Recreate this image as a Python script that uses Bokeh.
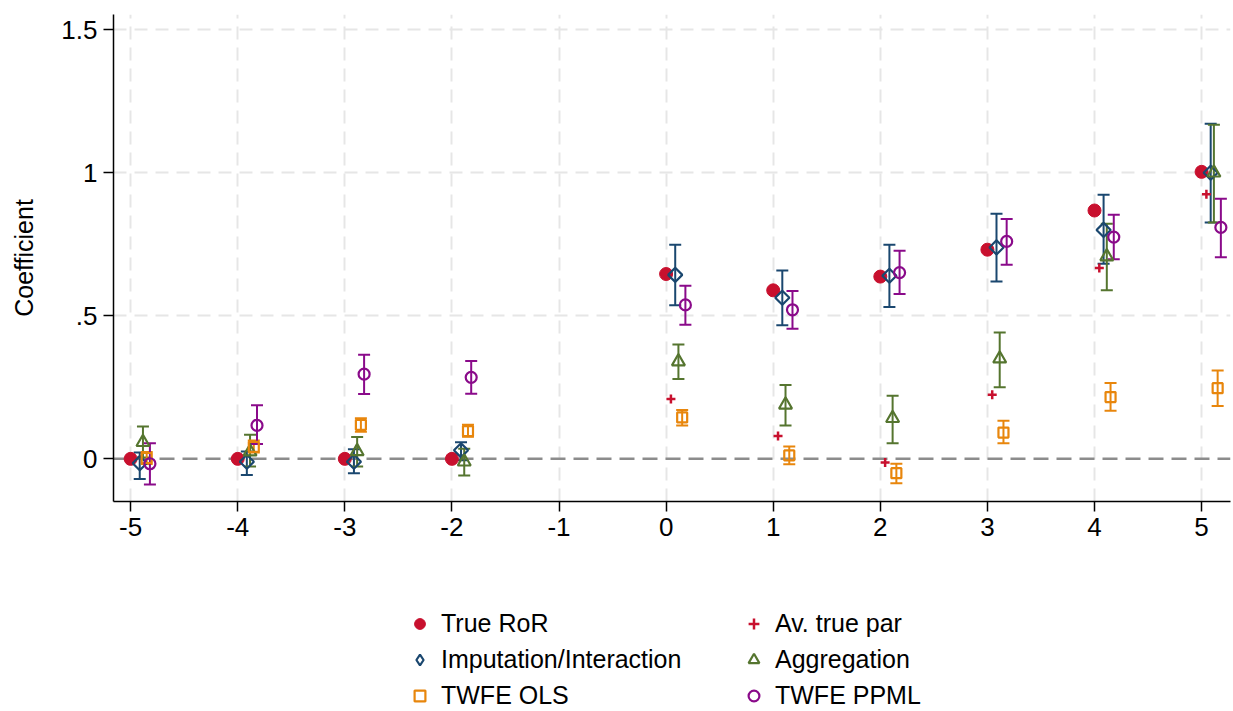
import numpy as np
from bokeh.plotting import figure
from bokeh.layouts import column
from bokeh.models import (ColumnDataSource, Whisker, TeeHead, Span, Legend, LegendItem,
                          FixedTicker, Range1d)
from bokeh.embed import file_html
from bokeh.resources import INLINE

# ---------------- data ----------------
lags = [-5, -4, -3, -2, 0, 1, 2, 3, 4, 5]
lags_post = [0, 1, 2, 3, 4, 5]

true_ror = [0.0, 0.0, 0.0, 0.0, 0.646, 0.589, 0.637, 0.731, 0.868, 1.003]
av_true_par = [0.209, 0.080, -0.013, 0.224, 0.667, 0.925]

imput = [-0.015, -0.010, -0.010, 0.030, 0.643, 0.563, 0.640, 0.739, 0.800, 1.000]
imput_lo = [-0.070, -0.056, -0.050, -0.005, 0.537, 0.467, 0.531, 0.620, 0.682, 0.826]
imput_hi = [0.022, 0.026, 0.034, 0.058, 0.748, 0.658, 0.748, 0.857, 0.923, 1.171]

agg = [0.058, 0.025, 0.026, -0.010, 0.340, 0.189, 0.142, 0.350, 0.707, 1.000]
agg_lo = [0.005, -0.027, -0.027, -0.058, 0.279, 0.117, 0.055, 0.250, 0.589, 0.826]
agg_hi = [0.113, 0.084, 0.076, 0.035, 0.400, 0.258, 0.221, 0.442, 0.822, 1.168]

ols = [0.003, 0.042, 0.119, 0.097, 0.145, 0.012, -0.050, 0.092, 0.216, 0.247]
ols_lo = [-0.018, 0.022, 0.095, 0.077, 0.117, -0.019, -0.085, 0.055, 0.168, 0.185]
ols_hi = [0.024, 0.064, 0.142, 0.119, 0.171, 0.043, -0.017, 0.133, 0.265, 0.309]

ppml = [-0.017, 0.117, 0.296, 0.285, 0.538, 0.521, 0.651, 0.760, 0.775, 0.809]
ppml_lo = [-0.090, 0.052, 0.227, 0.228, 0.469, 0.455, 0.576, 0.678, 0.698, 0.705]
ppml_hi = [0.055, 0.187, 0.364, 0.342, 0.605, 0.587, 0.727, 0.838, 0.853, 0.909]

x_ticks = [-5, -4, -3, -2, -1, 0, 1, 2, 3, 4, 5]
y_ticks = [0, 0.5, 1, 1.5]
y_tick_labels = ["0", ".5", "1", "1.5"]

series_names = ["True RoR", "Av. true par", "Imputation/Interaction",
                "Aggregation", "TWFE OLS", "TWFE PPML"]

# ---------------- styles ----------------
RED = "#c8102e"
BLUE = "#1a476f"
GREEN = "#55752f"
ORANGE = "#e8860c"
PURPLE = "#8a0a8a"
FONT = "Liberation Sans"

OFF_AV, OFF_IMP, OFF_AGG, OFF_OLS, OFF_PPML = 0.045, 0.085, 0.115, 0.15, 0.18
DIAMOND_ANGLE = np.pi / 4

STYLES = {
    "True RoR": dict(marker="circle", size=13, fill_color=RED, line_color=RED, line_width=1),
    "Av. true par": dict(marker="cross", size=9, line_color=RED, line_width=2.5),
    "Imputation/Interaction": dict(marker="square", size=10, fill_alpha=0,
                                   line_color=BLUE, line_width=2.2),
    "Aggregation": dict(marker="triangle", size=13, fill_alpha=0, line_color=GREEN,
                        line_width=2.2),
    "TWFE OLS": dict(marker="square", size=10, fill_alpha=0, line_color=ORANGE,
                     line_width=2.2),
    "TWFE PPML": dict(marker="circle", size=11, fill_alpha=0, line_color=PURPLE,
                      line_width=2.2),
}

p = figure(width=1233, height=565, output_backend="svg", toolbar_location=None,
           x_range=Range1d(-5.16, 5.27), y_range=Range1d(-0.149, 1.553),
           min_border_left=113, min_border_right=3, min_border_top=14,
           min_border_bottom=64)
p.outline_line_color = None
p.background_fill_color = "white"
p.border_fill_color = "white"

# grid
p.xgrid.ticker = FixedTicker(ticks=x_ticks)
p.ygrid.ticker = FixedTicker(ticks=[0.5, 1, 1.5])
for g in (p.xgrid, p.ygrid):
    g.grid_line_color = "#e6e6e6"
    g.grid_line_width = 2
    g.grid_line_dash = "13 8"

# axes
p.xaxis.ticker = FixedTicker(ticks=x_ticks)
p.xaxis.major_label_overrides = {t: str(t) for t in x_ticks}
p.yaxis.ticker = FixedTicker(ticks=y_ticks)
p.yaxis.major_label_overrides = dict(zip(y_ticks, y_tick_labels))
p.yaxis.axis_label = "Coefficient"
for ax in (p.xaxis, p.yaxis):
    ax.axis_line_color = "black"
    ax.axis_line_width = 1.5
    ax.major_tick_line_color = "black"
    ax.major_tick_line_width = 1.5
    ax.major_tick_out = 10
    ax.major_tick_in = 0
    ax.minor_tick_out = 0
    ax.minor_tick_in = 0
    ax.major_label_text_font = FONT
    ax.major_label_text_font_size = "26px"
    ax.major_label_text_color = "black"
    ax.major_label_standoff = 6
    ax.axis_label_text_font = FONT
    ax.axis_label_text_font_size = "25px"
    ax.axis_label_text_font_style = "normal"
    ax.axis_label_text_color = "black"
p.yaxis.axis_label_standoff = 20

# zero reference line
zero = Span(location=0, dimension="width", line_color="#8c8c8c", line_width=2.5,
            line_dash="15 8", level="underlay")
p.add_layout(zero)

lags_a = np.array(lags, dtype=float)
post_a = np.array(lags_post, dtype=float)


def whisk(xs, lo, hi, color):
    src = ColumnDataSource(dict(x=xs, lo=lo, hi=hi))
    w = Whisker(source=src, base="x", lower="lo", upper="hi", dimension="height",
                line_color=color, line_width=2,
                upper_head=TeeHead(size=12, line_color=color, line_width=2),
                lower_head=TeeHead(size=12, line_color=color, line_width=2))
    p.add_layout(w)


whisk(lags_a + OFF_IMP, imput_lo, imput_hi, BLUE)
whisk(lags_a + OFF_AGG, agg_lo, agg_hi, GREEN)
whisk(lags_a + OFF_OLS, ols_lo, ols_hi, ORANGE)
whisk(lags_a + OFF_PPML, ppml_lo, ppml_hi, PURPLE)

p.scatter(lags_a, true_ror, **STYLES["True RoR"])
p.scatter(post_a + OFF_AV, av_true_par, **STYLES["Av. true par"])
p.scatter(lags_a + OFF_IMP, imput, angle=DIAMOND_ANGLE, **STYLES["Imputation/Interaction"])
p.scatter(lags_a + OFF_AGG, agg, **STYLES["Aggregation"])
p.scatter(lags_a + OFF_OLS, ols, **STYLES["TWFE OLS"])
p.scatter(lags_a + OFF_PPML, ppml, **STYLES["TWFE PPML"])

# ---------------- legend panel ----------------
pl = figure(width=1233, height=146, output_backend="svg", toolbar_location=None,
            x_range=Range1d(0, 1), y_range=Range1d(0, 1),
            x_axis_type=None, y_axis_type=None,
            min_border_left=0, min_border_right=0, min_border_top=0, min_border_bottom=0)
pl.outline_line_color = None
pl.xgrid.visible = False
pl.ygrid.visible = False
pl.background_fill_color = "white"
pl.border_fill_color = "white"

# legend-only renderers (no visible points)
leg_r = {}
for name in series_names:
    st = dict(STYLES[name])
    if name == "Imputation/Interaction":
        st["marker"] = "diamond"
    leg_r[name] = pl.scatter(x=[np.nan], y=[np.nan], **st)

# column-major order so rows read: True RoR / Av. true par, etc.
order = ["True RoR", "Imputation/Interaction", "TWFE OLS",
         "Av. true par", "Aggregation", "TWFE PPML"]
legend = Legend(items=[LegendItem(label=n, renderers=[leg_r[n]]) for n in order],
                ncols=2, location=(293, 1))
legend.border_line_alpha = 0
legend.background_fill_alpha = 0
legend.padding = 0
legend.margin = 0
legend.spacing = 7
legend.glyph_width = 27
legend.glyph_height = 27
legend.label_height = 25
legend.label_width = 292
legend.label_standoff = 8
legend.label_text_font = FONT
legend.label_text_font_size = "25px"
legend.label_text_color = "black"
pl.add_layout(legend, "center")

layout = column(p, pl, spacing=0)
open("out.html", "w").write(file_html(layout, INLINE))
